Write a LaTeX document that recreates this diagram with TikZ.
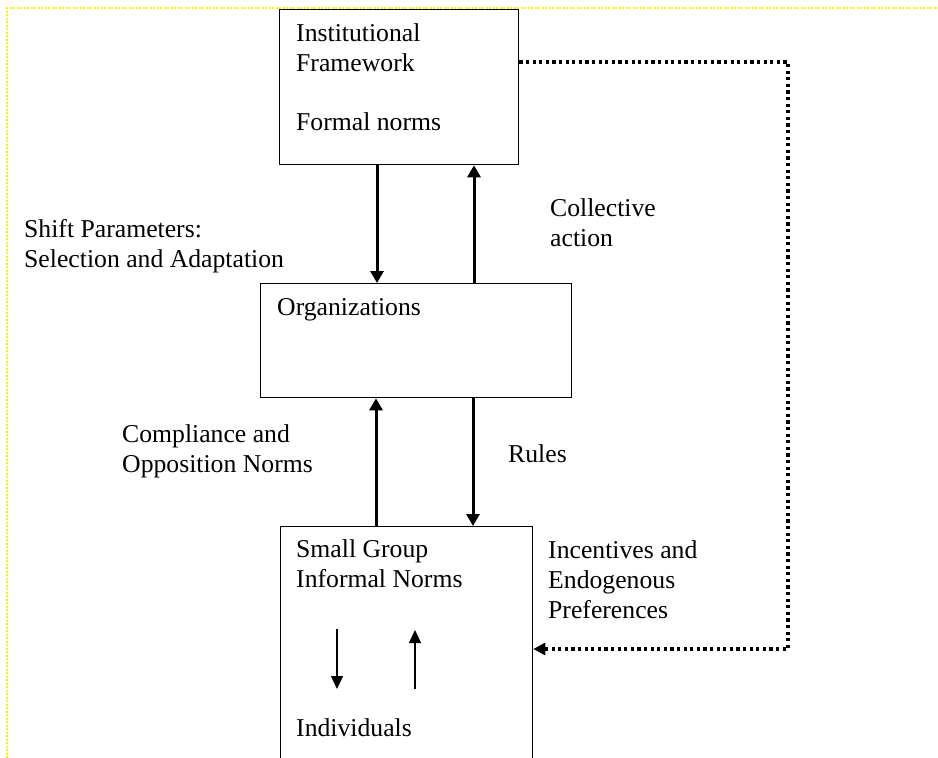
\documentclass[tikz,border=0pt]{standalone}
\usepackage{fontspec}
\setmainfont{Liberation Serif}
\usetikzlibrary{arrows.meta}
\begin{document}
\begin{tikzpicture}[x=1pt,y=-1pt,
  box/.style={draw, line width=1.3pt, rectangle, inner sep=0pt, anchor=north west},
  lbl/.style={anchor=base west, inner sep=0pt, align=left, font=\fontsize{25.7}{30}\selectfont},
  bigarrow/.style={line width=3pt, -{Triangle[length=12pt,width=13pt]}},
  smallarrow/.style={line width=1.3pt, -{Triangle[length=13pt,width=12pt]}},
  feedback/.style={line width=3.2pt, dash pattern=on 3.2pt off 3.4pt, -{Triangle[length=12pt,width=12pt]}},
  frame/.style={draw=yellow, line width=1.5pt, dash pattern=on 2pt off 1.5pt}]
\clip (0,0) rectangle (938,758);
\fill[white] (0,0) rectangle (938,758);
\draw[frame] (7,800) -- (7,8) -- (960,8);

% boxes
\node[box, minimum width=239pt, minimum height=155pt] (inst) at (279,9) {};
\node[box, minimum width=311pt, minimum height=114pt] (org) at (260,283) {};
\node[box, minimum width=252pt, minimum height=300pt] (grp) at (280,526) {};

% labels (base anchor = baseline of the last line)
\node[lbl] (tinst) at (296,71) {Institutional\\Framework};
\node[lbl] (tformal) at (296,130) {Formal norms};
\node[lbl] (tshift) at (24,267) {Shift Parameters:\\Selection and Adaptation};
\node[lbl] (tcoll) at (550,246) {Collective\\action};
\node[lbl] (torg) at (277,315) {Organizations};
\node[lbl] (tcomp) at (122,472) {Compliance and\\Opposition Norms};
\node[lbl] (trules) at (508,462) {Rules};
\node[lbl] (tsmall) at (296,587) {Small Group\\Informal Norms};
\node[lbl] (tinc) at (548,618) {Incentives and\\Endogenous\\Preferences};
\node[lbl] (tind) at (296,736) {Individuals};

% vertical positions of the arrows
\coordinate (xa) at (377,0);
\coordinate (xb) at (474,0);
\coordinate (xc) at (376,0);
\coordinate (xd) at (473,0);
\draw[bigarrow] (inst.south -| xa) -- (org.north -| xa);
\draw[bigarrow] (org.north -| xb) -- (inst.south -| xb);
\draw[bigarrow] (grp.north -| xc) -- (org.south -| xc);
\draw[bigarrow] (org.south -| xd) -- (grp.north -| xd);

% small arrows inside the group box
\coordinate (s1a) at (337,629);
\coordinate (s1b) at (337,689);
\coordinate (s2a) at (415,689);
\coordinate (s2b) at (415,630);
\draw[smallarrow] (s1a) -- (s1b);
\draw[smallarrow] (s2a) -- (s2b);

% feedback dotted connector
\coordinate (c1) at (788,62);
\coordinate (c2) at (788,649);
\draw[feedback] (inst.east |- c1) -- (c1) -- (c2) -- (grp.east |- c2);
\end{tikzpicture}
\end{document}
